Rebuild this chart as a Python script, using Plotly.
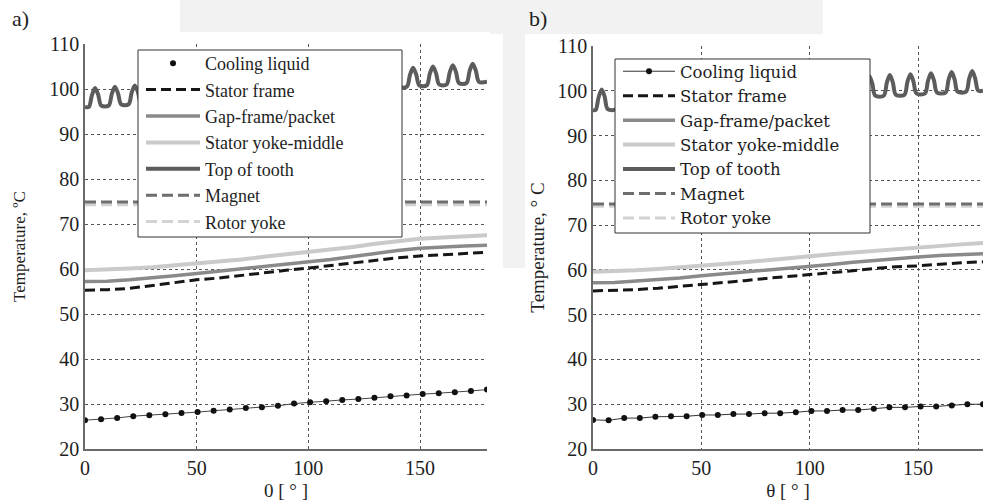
import plotly.graph_objects as go

# ---------------- data ----------------
X_LINES = [0, 10, 20, 30, 40, 50, 60, 70, 80, 90, 100, 110, 120, 130, 140, 150, 160, 170, 180]
X_COOL = [0, 7.2, 14.4, 21.6, 28.8, 36, 43.2, 50.4, 57.6, 64.8, 72, 79.2, 86.4, 93.6, 100.8,
          108, 115.2, 122.4, 129.6, 136.8, 144, 151.2, 158.4, 165.6, 172.8, 180]
X_CONST = [0, 180]

# panel a)
A_COOL = [26.4, 26.6, 26.9, 27.3, 27.5, 27.7, 28.0, 28.2, 28.5, 28.8, 29.1, 29.3, 29.6, 30.1, 30.4,
          30.6, 30.9, 31.1, 31.4, 31.7, 31.9, 32.2, 32.4, 32.6, 32.9, 33.2]
A_FRAME = [55.3, 55.4, 55.7, 56.3, 57.0, 57.6, 58.0, 58.6, 59.1, 59.7, 60.2, 60.8, 61.4, 61.9, 62.5,
           62.9, 63.2, 63.5, 63.7]
A_GAP = [57.2, 57.3, 57.6, 58.0, 58.5, 59.0, 59.5, 60.0, 60.5, 61.0, 61.5, 62.1, 62.8, 63.5, 64.1,
         64.6, 64.9, 65.1, 65.3]
A_YOKE = [59.7, 59.8, 60.1, 60.4, 60.8, 61.1, 61.6, 62.1, 62.7, 63.2, 63.7, 64.2, 64.9, 65.6, 66.2,
          66.7, 67.0, 67.3, 67.5]
A_TOOTH_PEAK_X = [4.5, 13.4, 22.3, 31.2, 40.1, 49.0, 57.9, 66.8, 75.7, 84.6, 93.5, 102.4, 111.3,
                  120.2, 129.1, 138.0, 146.9, 155.8, 164.7, 173.6]
A_TOOTH_PEAK_T = [100.2, 100.5, 100.8, 101.1, 101.3, 101.6, 101.9, 102.2, 102.4, 102.7, 103.0, 103.3,
                  103.6, 103.8, 104.1, 104.4, 104.7, 105.0, 105.3, 105.6]
A_TOOTH_START_T = 96.0
A_TOOTH_VALLEY_T = [96.3, 96.6, 96.9, 97.2, 97.4, 97.7, 98.0, 98.3, 98.5, 98.8, 99.1, 99.4, 99.6,
                    99.9, 100.2, 100.5, 100.8, 101.0, 101.3, 101.6]
A_MAGNET = [74.9, 74.9]
A_ROTOR = [74.3, 74.3]

# panel b)
B_COOL = [26.5, 26.4, 26.9, 26.9, 27.2, 27.3, 27.3, 27.6, 27.6, 27.8, 27.8, 28.0, 28.0, 28.2, 28.5,
          28.5, 28.7, 28.7, 29.0, 29.3, 29.3, 29.5, 29.5, 29.7, 30.0, 30.0]
B_FRAME = [55.3, 55.4, 55.6, 55.9, 56.3, 56.8, 57.2, 57.6, 58.1, 58.5, 58.9, 59.3, 59.8, 60.3, 60.7,
           60.9, 61.3, 61.6, 61.8]
B_GAP = [57.1, 57.2, 57.5, 57.8, 58.2, 58.7, 59.1, 59.5, 59.9, 60.3, 60.7, 61.2, 61.7, 62.1, 62.6,
         62.9, 63.2, 63.4, 63.6]
B_YOKE = [59.6, 59.7, 59.9, 60.2, 60.5, 60.9, 61.3, 61.7, 62.2, 62.6, 63.1, 63.5, 63.9, 64.3, 64.7,
          65.0, 65.4, 65.7, 66.0]
B_TOOTH_PEAK_X = [4.0, 13.5, 23.0, 32.5, 42.0, 51.5, 61.0, 70.5, 80.0, 89.5, 99.0, 108.5, 118.0,
                  127.5, 137.0, 146.5, 156.0, 165.5, 175.0]
B_TOOTH_PEAK_T = [100.3, 100.5, 100.8, 101.0, 101.2, 101.4, 101.7, 101.9, 102.1, 102.4, 102.6, 102.8,
                  103.0, 103.3, 103.5, 103.7, 103.9, 104.2, 104.4]
B_TOOTH_START_T = 95.7
B_TOOTH_VALLEY_T = [95.9, 96.2, 96.4, 96.6, 96.9, 97.1, 97.3, 97.6, 97.8, 98.0, 98.2, 98.5, 98.7,
                    98.9, 99.1, 99.4, 99.6, 99.8, 100.0]
B_MAGNET = [74.7, 74.7]
B_ROTOR = [74.2, 74.2]

NAMES = ["Cooling liquid", "Stator frame", "Gap-frame/packet", "Stator yoke-middle",
         "Top of tooth", "Magnet", "Rotor yoke"]
X_TICKS = [0, 50, 100, 150]
Y_TICKS = [20, 30, 40, 50, 60, 70, 80, 90, 100, 110]

# ---------------- styles ----------------
FONT = "Liberation Serif"
FONT_B_LEGEND = "DejaVu Serif"
TXT = "#1e1e1e"
C_FRAME = "#161616"
C_GAP = "#8a8a8a"
C_YOKE = "#cacaca"
C_TOOTH = "#5c5c5c"
C_MAGNET = "#6e6e6e"
C_ROTOR = "#d2d2d2"
C_WATER = "#f2f2f2"
BUMP_HALF = 2.8      # half-width of each tooth bump (x units)
SHOULDER = 1.4       # shoulder offset
SHOULDER_FRAC = 0.62

W, H = 983, 503


def tooth_path(peak_x, peak_t, start_t, valley_t, x_end):
    """Polyline through the read peak / valley levels (bump outline)."""
    xs, ys = [0], [start_t]
    prev = start_t
    for p, pk, v in zip(peak_x, peak_t, valley_t):
        xs += [p - BUMP_HALF, p - SHOULDER, p, p + SHOULDER, p + BUMP_HALF]
        ys += [prev, prev + SHOULDER_FRAC * (pk - prev), pk, v + SHOULDER_FRAC * (pk - v), v]
        prev = v
    xs.append(x_end)
    ys.append(prev)
    return xs, ys


fig = go.Figure()


def add_panel(xa, ya, lg, cool, frame, gap, yoke, tooth, mag, rot, cool_legend_line):
    common = dict(xaxis=xa, yaxis=ya, legend=lg)
    tx, ty = tooth
    fig.add_trace(go.Scatter(x=X_CONST, y=rot, mode="lines", name=NAMES[6], legendrank=7,
                             line=dict(color=C_ROTOR, width=3, dash="11px,5px"), **common))
    fig.add_trace(go.Scatter(x=X_CONST, y=mag, mode="lines", name=NAMES[5], legendrank=6,
                             line=dict(color=C_MAGNET, width=3, dash="11px,5px"), **common))
    fig.add_trace(go.Scatter(x=tx, y=ty, mode="lines", name=NAMES[4], legendrank=5,
                             line=dict(color=C_TOOTH, width=4, shape="spline", smoothing=0.9), **common))
    fig.add_trace(go.Scatter(x=X_LINES, y=yoke, mode="lines", name=NAMES[3], legendrank=4,
                             line=dict(color=C_YOKE, width=4), **common))
    fig.add_trace(go.Scatter(x=X_LINES, y=gap, mode="lines", name=NAMES[2], legendrank=3,
                             line=dict(color=C_GAP, width=3.5), **common))
    fig.add_trace(go.Scatter(x=X_LINES, y=frame, mode="lines", name=NAMES[1], legendrank=2,
                             line=dict(color=C_FRAME, width=3, dash="10px,5px"), **common))
    if cool_legend_line:
        fig.add_trace(go.Scatter(x=X_COOL, y=cool, mode="lines+markers", name=NAMES[0], legendrank=1,
                                 line=dict(color="#333333", width=1),
                                 marker=dict(color="#111111", size=6), **common))
    else:
        fig.add_trace(go.Scatter(x=X_COOL, y=cool, mode="lines", showlegend=False,
                                 line=dict(color="#444444", width=1), xaxis=xa, yaxis=ya))
        fig.add_trace(go.Scatter(x=X_COOL, y=cool, mode="markers", name=NAMES[0], legendrank=1,
                                 marker=dict(color="#111111", size=6), **common))


add_panel("x", "y", "legend", A_COOL, A_FRAME, A_GAP, A_YOKE,
          tooth_path(A_TOOTH_PEAK_X, A_TOOTH_PEAK_T, A_TOOTH_START_T, A_TOOTH_VALLEY_T, 180),
          A_MAGNET, A_ROTOR, False)
add_panel("x2", "y2", "legend2", B_COOL, B_FRAME, B_GAP, B_YOKE,
          tooth_path(B_TOOTH_PEAK_X, B_TOOTH_PEAK_T, B_TOOTH_START_T, B_TOOTH_VALLEY_T, 180),
          B_MAGNET, B_ROTOR, True)

axis_common = dict(
    showgrid=True, gridcolor="#555555", griddash="dot", gridwidth=1,
    showline=True, linecolor="#6a6a6a", linewidth=1.5,
    zeroline=False, ticks="", automargin=False,
    tickfont=dict(family=FONT, size=20, color=TXT),
)


def px_x(v):
    return v / W


def px_y(v):
    return (H - v) / H


def prect(x0, y0, x1, y1, **kw):
    return dict(type="rect", xref="paper", yref="paper", x0=px_x(x0), x1=px_x(x1),
                y0=px_y(y1), y1=px_y(y0), **kw)


shapes = [
    # faint watermark in the page background
    prect(180, 0, 490, 32, fillcolor=C_WATER, line=dict(width=0), layer="below"),
    prect(490, 0, 823, 34, fillcolor=C_WATER, line=dict(width=0), layer="below"),
    prect(503, 34, 525, 268, fillcolor=C_WATER, line=dict(width=0), layer="below"),
    # legend boxes
    prect(138, 50, 402, 237, fillcolor="white", line=dict(color="#333333", width=1), layer="above"),
    prect(615, 59, 870, 233, fillcolor="white", line=dict(color="#333333", width=1), layer="above"),
]

fig.update_layout(
    width=W, height=H,
    margin=dict(l=0, r=0, t=0, b=0, autoexpand=False),
    paper_bgcolor="white", plot_bgcolor="white",
    font=dict(family=FONT, color=TXT),
    showlegend=True,
    xaxis=dict(domain=[px_x(85), px_x(487)], range=[0, 180], tickvals=X_TICKS, anchor="y",
               title=dict(text="0 [ ° ]", font=dict(family=FONT, size=19, color=TXT), standoff=6),
               **axis_common),
    yaxis=dict(domain=[px_y(449), px_y(44)], range=[20, 110], tickvals=Y_TICKS, anchor="x",
               title=dict(text="Temperature, ºC", font=dict(family=FONT, size=17, color=TXT), standoff=19),
               **axis_common),
    xaxis2=dict(domain=[px_x(593), 1.0], range=[0, 180], tickvals=X_TICKS, anchor="y2",
                title=dict(text="θ [ ° ]", font=dict(family=FONT, size=19, color=TXT), standoff=6),
                **axis_common),
    yaxis2=dict(domain=[px_y(449), px_y(46)], range=[20, 110], tickvals=Y_TICKS, anchor="x2",
                title=dict(text="Temperature, ° C", font=dict(family=FONT, size=19, color=TXT), standoff=8),
                **axis_common),
    legend=dict(x=px_x(141), y=px_y(45), xanchor="left", yanchor="top",
                bgcolor="rgba(0,0,0,0)", borderwidth=0,
                font=dict(family=FONT, size=18, color=TXT),
                itemwidth=54, traceorder="normal"),
    legend2=dict(x=px_x(618), y=px_y(54), xanchor="left", yanchor="top",
                 bgcolor="rgba(0,0,0,0)", borderwidth=0,
                 font=dict(family=FONT_B_LEGEND, size=16.5, color=TXT),
                 itemwidth=52, traceorder="normal"),
    shapes=shapes,
    annotations=[
        dict(text="a)", x=px_x(10), y=px_y(18), xref="paper", yref="paper", showarrow=False,
             xanchor="left", yanchor="middle", font=dict(family=FONT, size=22, color=TXT)),
        dict(text="b)", x=px_x(527), y=px_y(18), xref="paper", yref="paper", showarrow=False,
             xanchor="left", yanchor="middle", font=dict(family=FONT, size=22, color=TXT)),
    ],
)

fig.write_html("out.html",
               config={"displayModeBar": False},
               post_script="document.body.style.margin='0';document.body.style.overflow='hidden';")
